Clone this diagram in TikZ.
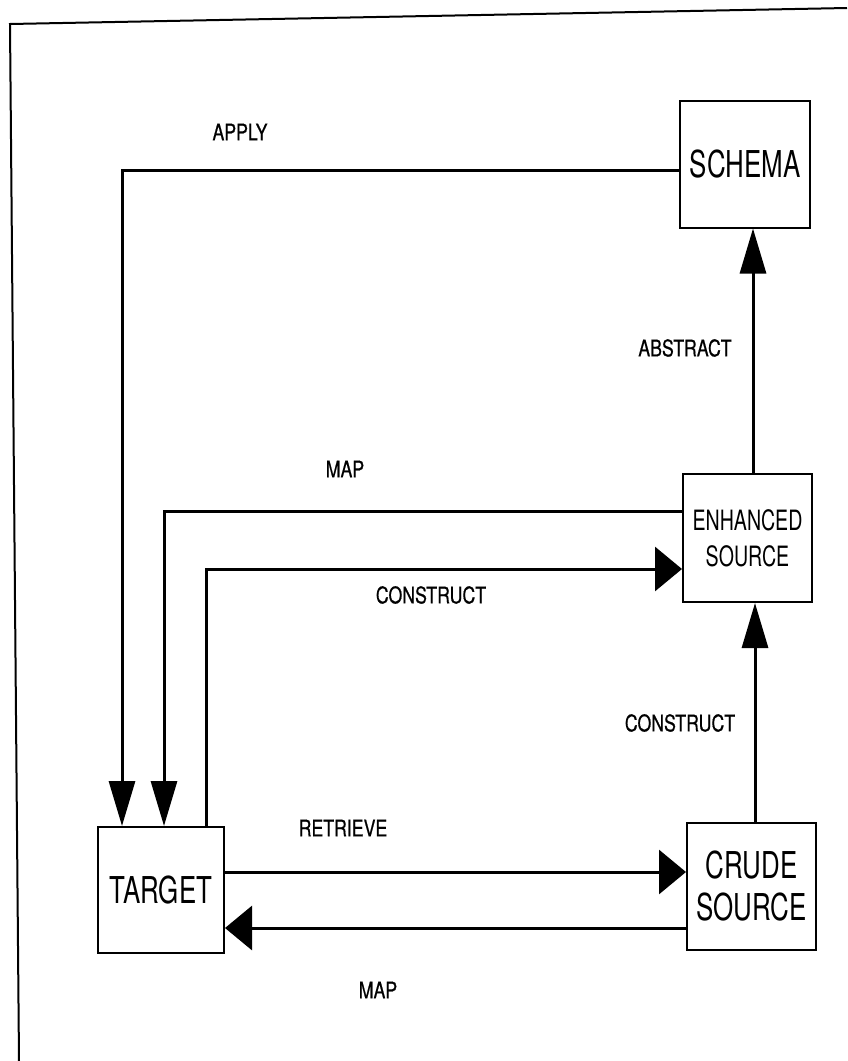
\documentclass[tikz,border=0pt]{standalone}
\usepackage{fontspec}
\setmainfont{TeX Gyre Heros}
\newfontfamily\boxfont{TeX Gyre Heros}[FakeStretch=0.70]
\newfontfamily\labfont{TeX Gyre Heros}[FakeStretch=0.77,FakeBold=0.6]
\usetikzlibrary{arrows.meta}
\begin{document}
\begin{tikzpicture}[x=1pt,y=-1pt,
  blk/.style={draw,line width=2pt,inner sep=0pt,align=center,font=\boxfont\fontsize{37}{42}\selectfont},
  blksmall/.style={blk,font=\boxfont\fontsize{28}{36}\selectfont},
  conn/.style={line width=3pt},
  vtip/.style={conn,-{Triangle[length=45pt,width=26pt]}},
  htip/.style={conn,-{Triangle[length=27pt,width=44pt]}},
  lab/.style={font=\labfont\fontsize{23}{26}\selectfont,inner sep=0pt}]
\useasboundingbox (0,0) rectangle (847,1061);
% frame
\draw[line width=2pt] (19,1061) -- (10,24) -- (847,8);
% boxes
\node[blk,minimum width=130pt,minimum height=127pt] (schema) at (745,164) {SCHEMA};
\node[blksmall,minimum width=129pt,minimum height=128pt] (enh) at (747.5,538) {ENHANCED\\SOURCE};
\node[blk,minimum width=129pt,minimum height=127pt] (crude) at (751.5,886.5) {CRUDE\\SOURCE};
\node[blk,minimum width=126pt,minimum height=126pt] (target) at (161,890) {TARGET};
% connectors
\draw[vtip] ([yshift=-6pt]schema.west) -| ([xshift=-39pt]target.north);
\draw[vtip] ([yshift=27pt]enh.west) -| ([xshift=3pt]target.north);
\draw[htip] ([xshift=45pt]target.north) |- ([yshift=-31pt]enh.west);
\draw[vtip] ([xshift=5.5pt]enh.north) -- ([xshift=5.5pt]enh.north |- schema.south);
\draw[vtip] ([xshift=3.5pt]crude.north) -- ([xshift=3.5pt]crude.north |- enh.south);
\draw[htip] ([yshift=18pt]target.east) -- ([yshift=18pt]target.east -| crude.west);
\draw[htip] ([yshift=-41.5pt]crude.west) -- ([yshift=-41.5pt]crude.west -| target.east);
% labels
\node[lab] (lapply) at (240,132) {APPLY};
\node[lab] (labstract) at (685,348) {ABSTRACT};
\node[lab] (lmap1) at (345,469) {MAP};
\node[lab] (lcons1) at (431,595) {CONSTRUCT};
\node[lab] (lcons2) at (680,723) {CONSTRUCT};
\node[lab] (lret) at (343,828) {RETRIEVE};
\node[lab] (lmap2) at (378,990) {MAP};
\end{tikzpicture}
\end{document}
